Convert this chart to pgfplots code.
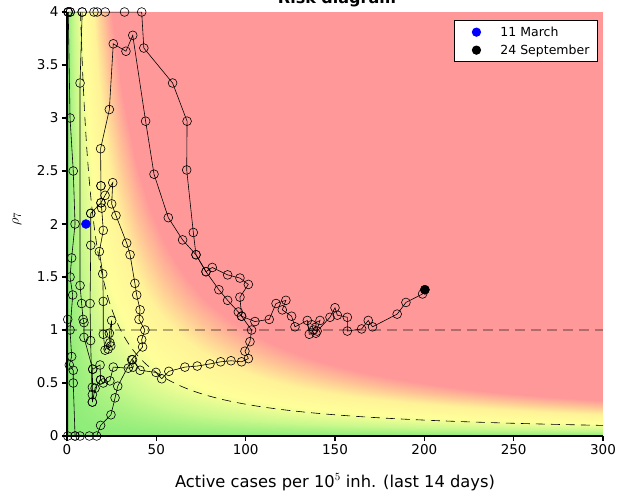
\documentclass[border=0pt]{standalone}
\usepackage{fontspec}
\setmainfont{DejaVu Sans}
\usepackage{pgfplots}
\pgfplotsset{compat=1.18}
\begin{document}
\begin{tikzpicture}[x=1pt,y=1pt, font=\fontsize{13}{15.5}\selectfont]
\pgfplotsset{traj/.style={black, line width=0.6pt, mark=o, mark size=4.4pt, mark options={solid, line width=0.6pt}, forget plot}}
\begin{axis}[
  at={(0pt,0pt)}, anchor=south west,
  scale only axis, width=536pt, height=424pt,
  view={0}{90},
  xmin=0, xmax=300, ymin=0, ymax=4, zmin=-1, zmax=1,
  ztick=\empty,
  axis lines*=left,
  axis line style={line width=1.2pt},
  axis on top,
  tick align=outside,
  major tick length=5pt,
  every tick/.style={black, line width=1.2pt},
  xtick={0,50,...,300},
  ytick={0,0.5,...,4},
  tick label style={font=\fontsize{13.5}{16}\selectfont},
  /pgf/number format/assume math mode=true,
  /pgf/number format/fixed,
  colormap={risk}{rgb255(0pt)=(140,236,120); rgb255(15pt)=(200,248,140); rgb255(35pt)=(255,255,153); rgb255(60pt)=(255,242,152); rgb255(80pt)=(255,195,150); rgb255(100pt)=(255,153,153); rgb255(150pt)=(255,153,153)},
  point meta min=0, point meta max=150,
  legend style={at={(axis description cs:0.9907,0.981)}, anchor=north east, draw=black, line width=1.2pt, font=\fontsize{12.5}{14.5}\selectfont, row sep=3pt, inner xsep=6pt, inner ysep=4pt},
  legend image code/.code={\path[mark repeat=2,mark phase=2,#1,draw=none] plot coordinates {(0pt,0pt) (16pt,0pt) (38pt,0pt)};},
  legend cell align=left,
  clip=true,
]
\addplot3[surf, shader=interp, domain=0:300, y domain=0:4, samples=100, samples y=40, point meta={min(x*y,150)}, forget plot] {0};

\addplot[black, line width=1.5pt, opacity=0.3, dash pattern=on 10pt off 6pt, forget plot] coordinates {(0,1) (300,1)};
\addplot[black, line width=0.6pt, dash pattern=on 9pt off 6pt, domain=7.5:300, samples=250, forget plot] {30/x};

% left strip
\addplot[traj] coordinates {(0.4,0) (0.4,1.1) (0.5,4) (0.7,4)};
\addplot[traj] coordinates {(4.5,0) (3.5,0.5) (3.5,0.62) (1.3,0.67) (2.6,0.75) (1.7,1.0) (3.2,1.33) (1.7,1.5) (2.6,1.68) (4.5,2.0) (3.5,2.5) (1.7,3.0) (0.7,4) (1.8,4)};
% top row and outer branch
\addplot[traj] coordinates {(1.8,4) (8.5,4) (15.1,4) (16.9,4) (21.4,4) (32.2,4) (41.8,4) (43,3.66) (59.1,3.33) (67.2,2.97) (67,2.51) (70.7,1.92) (72.2,1.71) (77.8,1.55) (81.3,1.59) (89.9,1.52) (96.8,1.49) (101.5,1.43) (96.8,1.31) (97.7,1.13) (103.3,1.0) (102.4,0.89) (99.6,0.80) (101.5,0.73) (97.7,0.70) (91.8,0.71) (86,0.70) (80,0.68) (72.9,0.66) (66,0.65) (57,0.61) (53,0.54) (49.8,0.60) (40.9,0.62) (36.7,0.72) (37.1,0.65) (34.3,0.64) (25.9,0.65) (24,0.52) (20.3,0.50) (18.8,0.53) (18.5,0.67) (14.4,0.63)};
% x about 7-9
\addplot[traj] coordinates {(8.5,4) (7.3,3.33) (7.3,1.42) (8.2,1.25) (9,1.1) (9.5,1.07) (9.5,0.93) (14.4,0.63) (14.2,0.46) (14.2,0.39) (14.2,0.32) (15.7,0.45) (18.8,0.53)};
% bottom and rising inner branch
\addplot[traj] coordinates {(4.5,0) (7.3,0) (12.5,0) (16.6,0) (18.8,0.1) (24.6,0.2) (26.9,0.36) (28.4,0.47) (36.2,0.72) (42.3,0.84) (41.8,0.91) (43.6,1.0) (40.3,1.1) (40.9,1.19) (39,1.33) (38,1.44) (35.3,1.71) (33.4,1.82) (27.4,2.08) (25,2.19) (25.6,2.39) (21.3,2.27) (19,2.2) (13.3,2.1)};
% x about 13
\addplot[traj] coordinates {(13.3,2.1) (13.3,1.80) (12.9,1.25) (13.2,0.9) (14.2,0.32)};
% x about 19-20
\addplot[traj] coordinates {(19,2.36) (19,2.2) (19.4,2.15) (20.3,1.94) (18.1,1.74) (20,1.53) (20.3,1.27) (20.3,0.96) (21.3,0.81) (24,0.88) (23.7,0.97) (25,1.09) (24.5,0.85) (23,0.82)};
% second branch to the end
\addplot[traj] coordinates {(19,2.36) (18.8,2.71) (23.7,3.08) (25.9,3.70) (33,3.63) (36.8,3.78) (44,2.97) (48.7,2.47) (56.7,2.06) (64.7,1.85) (72.2,1.71) (77.8,1.55) (85,1.38) (89.9,1.28) (95.9,1.17) (97.7,1.13) (105.2,1.08) (113.2,1.10) (117,1.25) (122.5,1.28) (120.5,1.19) (125.7,1.13) (127.6,1.03) (134.5,1.09) (135.6,0.96) (139.3,0.97) (141.6,1.09) (137,1.05) (138,1.0) (140,0.99) (147.2,1.12) (150,1.21) (151.3,1.14) (156.9,1.12) (156.9,0.99) (164.9,1.01) (168.6,1.09) (171,1.03) (184.8,1.15) (189.7,1.26) (199,1.34) (200.3,1.38)};

\addplot[only marks, mark=*, mark size=4.5pt, blue, forget plot] coordinates {(10.6,2.0)};
\addplot[only marks, mark=*, mark size=4.5pt, black, forget plot] coordinates {(200.3,1.38)};

\addlegendimage{mark=*, mark size=4pt, mark options={draw=blue, fill=blue}}
\addlegendentry{11 March}
\addlegendimage{mark=*, mark size=4pt, mark options={draw=black, fill=black}}
\addlegendentry{24 September}
\end{axis}
\node[anchor=base, font=\fontsize{16}{19}\selectfont\bfseries] at (270pt,432pt) {Risk diagram};
\node[anchor=base, font=\fontsize{16.3}{19}\selectfont] at (268pt,-51pt) {Active cases per 10$^5$ inh. (last 14 days)};
\node[rotate=90, anchor=center, font=\fontsize{15}{18}\selectfont] at (-50pt,217pt) {$\rho_7$};
\pgfresetboundingbox
\path[use as bounding box] (-67pt,-55pt) rectangle (551pt,436pt);
\end{tikzpicture}
\end{document}
